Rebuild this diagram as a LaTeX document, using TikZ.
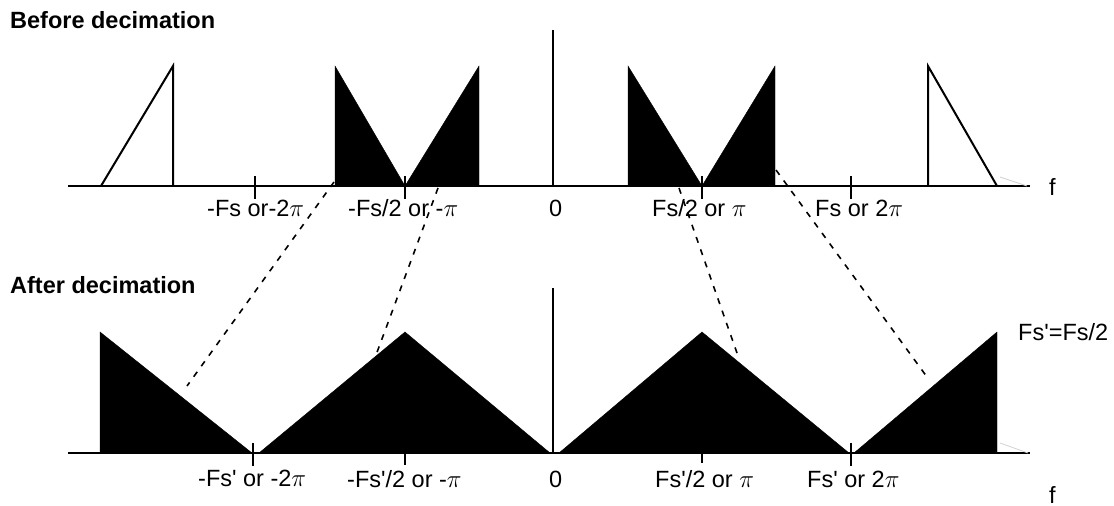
\documentclass[tikz,border=0pt]{standalone}
\usepackage{fontspec}
\setmainfont{Liberation Sans}[Ligatures=TeXOff]
\begin{document}
\begin{tikzpicture}[x=1pt,y=-1pt,
  axisline/.style={line width=2pt},
  triout/.style={line width=2pt, line join=miter},
  bandfill/.style={fill=black, draw=black, line width=0.4pt},
  tickmark/.style={line width=2pt},
  mapline/.style={line width=1.6pt, dash pattern=on 6pt off 7pt},
  ghost/.style={gray!35, line width=0.8pt},
  lbl/.style={anchor=base west, inner sep=0pt, font=\fontsize{23.5}{28}\selectfont},
  ttl/.style={anchor=base west, inner sep=0pt, font=\fontsize{23.5}{28}\selectfont\bfseries}]
\useasboundingbox (0,0) rectangle (1114,506);

% ---------- top (before decimation) ----------
\fill[bandfill] (335,186) -- (335,66) -- (405,186) -- (479,66) -- (479,186) -- cycle;
\fill[bandfill] (628,186) -- (628,66) -- (702,186) -- (775,66) -- (775,186) -- cycle;
\draw[triout] (101,186) -- (173,66) -- (173,186);
\draw[triout] (928,186) -- (928,66) -- (997,186);
\draw[axisline] (68,186) -- (1030,186);
\draw[axisline] (553,30) -- (553,186);
\draw[ghost] (1000,177) -- (1027,186);
\foreach \x in {255,405,702,851} \draw[tickmark] (\x,176) -- (\x,199);

\node[ttl] (t1) at (10,28) {Before decimation};
\node[lbl] (a1) at (207,216) {-Fs or-2$\pi$};
\node[lbl] (a2) at (348,216) {-Fs/2 or -$\pi$};
\node[lbl] (a3) at (549,216) {0};
\node[lbl] (a4) at (652,216) {Fs/2 or $\pi$};
\node[lbl] (a5) at (815,216) {Fs or 2$\pi$};
\node[lbl] (a6) at (1049,195) {f};

% ---------- bottom (after decimation) ----------
\fill[bandfill] (100,453) -- (100,332) -- (252,453) -- cycle;
\fill[bandfill] (259,453) -- (405,332) -- (550,453) -- cycle;
\fill[bandfill] (559,453) -- (702,332) -- (849,453) -- cycle;
\fill[bandfill] (854,453) -- (997,332) -- (997,453) -- cycle;
\draw[axisline] (68,453) -- (1030,453);
\draw[axisline] (553,288) -- (553,453);
\draw[ghost] (1000,443) -- (1028,453);
\draw[tickmark] (253,443) -- (253,466);
\draw[tickmark] (405,443) -- (405,465);
\draw[tickmark] (702,443) -- (702,463);
\draw[tickmark] (851,443) -- (851,466);

\node[ttl] (t2) at (10,293) {After decimation};
\node[lbl] (b1) at (198,486) {-Fs' or -2$\pi$};
\node[lbl] (b2) at (347,487) {-Fs'/2 or -$\pi$};
\node[lbl] (b3) at (549,487) {0};
\node[lbl] (b4) at (655,487) {Fs'/2 or $\pi$};
\node[lbl] (b5) at (807,487) {Fs' or 2$\pi$};
\node[lbl] (b6) at (1018,340) {Fs'=Fs/2};
\node[lbl] (b7) at (1049,503) {f};

% ---------- mapping lines ----------
\coordinate (d1a) at (334,182);
\coordinate (d1b) at (187,386);
\coordinate (d2a) at (438,188);
\coordinate (d2b) at (376,355);
\coordinate (d3a) at (679,188);
\coordinate (d3b) at (737,353);
\coordinate (d4a) at (776,170);
\coordinate (d4b) at (927,377);
\draw[mapline] (d1a) -- (d1b);
\draw[mapline] (d2a) -- (d2b);
\draw[mapline] (d3a) -- (d3b);
\draw[mapline] (d4a) -- (d4b);
\end{tikzpicture}
\end{document}
